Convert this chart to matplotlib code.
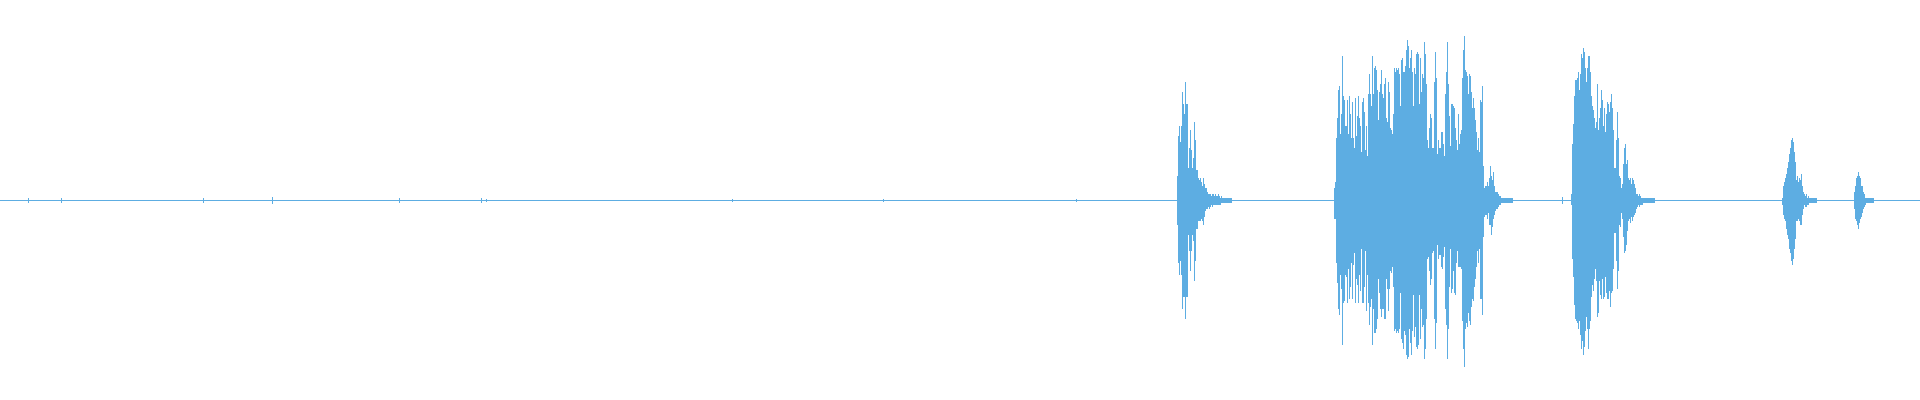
import numpy as np
import matplotlib
matplotlib.use('Agg')
import matplotlib.pyplot as plt

# waveform peaks: (max, -min) per sample column, full scale = 1.0
wave_color = '#5DADE2'

burst1_start = 1176
burst1 = [(0.12, 0.12), (0.32, 0.31), (0.37, 0.37), (0.29, 0.30), (0.37, 0.37),
	(0.54, 0.54), (0.48, 0.48), (0.43, 0.48), (0.59, 0.59), (0.48, 0.48),
	(0.48, 0.48), (0.16, 0.17), (0.26, 0.25), (0.35, 0.35), (0.25, 0.25),
	(0.16, 0.17), (0.21, 0.20), (0.39, 0.40), (0.30, 0.30), (0.15, 0.14),
	(0.15, 0.14), (0.11, 0.10), (0.10, 0.10), (0.11, 0.10), (0.09, 0.09),
	(0.07, 0.10), (0.11, 0.12), (0.08, 0.08), (0.06, 0.05), (0.06, 0.04),
	(0.04, 0.04), (0.03, 0.03), (0.03, 0.04), (0.03, 0.03), (0.02, 0.02),
	(0.03, 0.03), (0.03, 0.02), (0.02, 0.02), (0.03, 0.02), (0.02, 0.02),
	(0.02, 0.02), (0.03, 0.02), (0.02, 0.02), (0.01, 0.02), (0.02, 0.01),
	(0.01, 0.01), (0.01, 0.01), (0.01, 0.01), (0.01, 0.01), (0.01, 0.01),
	(0.01, 0.01), (0.01, 0.01), (0.01, 0.01), (0.01, 0.01), (0.01, 0.01)]

burst2_start = 1333
burst2 = [(0.06, 0.09), (0.09, 0.09), (0.31, 0.31), (0.41, 0.41), (0.55, 0.54),
	(0.57, 0.57), (0.33, 0.37), (0.43, 0.44), (0.72, 0.72), (0.52, 0.51),
	(0.50, 0.50), (0.37, 0.37), (0.37, 0.38), (0.50, 0.51), (0.33, 0.34),
	(0.52, 0.49), (0.43, 0.43), (0.31, 0.31), (0.49, 0.49), (0.31, 0.32),
	(0.26, 0.26), (0.51, 0.51), (0.32, 0.39), (0.42, 0.42), (0.52, 0.51),
	(0.41, 0.37), (0.37, 0.45), (0.24, 0.24), (0.49, 0.51), (0.51, 0.51),
	(0.44, 0.43), (0.25, 0.25), (0.37, 0.55), (0.22, 0.37), (0.53, 0.51),
	(0.63, 0.62), (0.53, 0.53), (0.47, 0.49), (0.72, 0.72), (0.53, 0.54),
	(0.66, 0.66), (0.67, 0.66), (0.65, 0.64), (0.55, 0.59), (0.40, 0.39),
	(0.54, 0.46), (0.58, 0.54), (0.65, 0.58), (0.53, 0.54), (0.51, 0.54),
	(0.58, 0.59), (0.61, 0.59), (0.41, 0.39), (0.39, 0.44), (0.59, 0.55),
	(0.54, 0.44), (0.36, 0.35), (0.35, 0.36), (0.33, 0.33), (0.43, 0.43),
	(0.66, 0.65), (0.64, 0.64), (0.66, 0.66), (0.65, 0.65), (0.66, 0.66),
	(0.63, 0.64), (0.47, 0.46), (0.70, 0.69), (0.71, 0.71), (0.64, 0.74),
	(0.64, 0.65), (0.67, 0.67), (0.75, 0.77), (0.80, 0.79), (0.77, 0.78),
	(0.66, 0.64), (0.71, 0.71), (0.75, 0.77), (0.64, 0.65), (0.47, 0.47),
	(0.66, 0.68), (0.63, 0.63), (0.73, 0.73), (0.74, 0.74), (0.73, 0.72),
	(0.48, 0.47), (0.71, 0.69), (0.54, 0.54), (0.63, 0.63), (0.61, 0.62),
	(0.79, 0.79), (0.73, 0.74), (0.58, 0.59), (0.30, 0.29), (0.26, 0.28),
	(0.36, 0.35), (0.43, 0.42), (0.41, 0.39), (0.26, 0.26), (0.26, 0.25),
	(0.59, 0.59), (0.74, 0.74), (0.61, 0.61), (0.23, 0.22), (0.30, 0.29),
	(0.26, 0.27), (0.26, 0.27), (0.34, 0.33), (0.34, 0.34), (0.28, 0.28),
	(0.22, 0.23), (0.53, 0.54), (0.64, 0.62), (0.79, 0.79), (0.58, 0.64),
	(0.42, 0.43), (0.27, 0.24), (0.48, 0.46), (0.48, 0.44), (0.47, 0.35),
	(0.46, 0.46), (0.36, 0.47), (0.30, 0.31), (0.25, 0.25), (0.43, 0.33),
	(0.28, 0.33), (0.33, 0.33), (0.35, 0.34), (0.61, 0.60), (0.75, 0.74),
	(0.82, 0.83), (0.65, 0.64), (0.64, 0.61), (0.62, 0.63), (0.53, 0.56),
	(0.63, 0.60), (0.62, 0.62), (0.54, 0.53), (0.46, 0.49), (0.51, 0.50),
	(0.46, 0.43), (0.40, 0.39), (0.34, 0.33), (0.25, 0.25), (0.31, 0.31),
	(0.24, 0.24), (0.50, 0.49), (0.49, 0.49), (0.57, 0.57), (0.17, 0.18),
	(0.06, 0.08), (0.07, 0.07), (0.07, 0.07), (0.09, 0.09), (0.07, 0.06),
	(0.11, 0.12), (0.17, 0.12), (0.12, 0.17), (0.10, 0.13), (0.14, 0.09),
	(0.07, 0.07), (0.04, 0.05), (0.04, 0.04), (0.04, 0.04), (0.03, 0.03),
	(0.02, 0.02), (0.02, 0.02), (0.01, 0.01), (0.01, 0.01), (0.01, 0.01),
	(0.01, 0.01), (0.01, 0.01), (0.01, 0.01), (0.01, 0.01), (0.01, 0.01),
	(0.01, 0.01), (0.01, 0.01), (0.01, 0.01), (0.01, 0.01)]

burst3_start = 1570
burst3 = [(0.03, 0.02), (0.28, 0.29), (0.38, 0.38), (0.52, 0.52), (0.60, 0.59),
	(0.60, 0.60), (0.61, 0.61), (0.64, 0.64), (0.55, 0.60), (0.63, 0.67),
	(0.73, 0.74), (0.71, 0.70), (0.76, 0.77), (0.74, 0.73), (0.66, 0.65),
	(0.59, 0.58), (0.66, 0.64), (0.72, 0.74), (0.72, 0.64), (0.64, 0.60),
	(0.52, 0.48), (0.47, 0.42), (0.45, 0.45), (0.41, 0.39), (0.36, 0.34),
	(0.39, 0.40), (0.58, 0.58), (0.35, 0.56), (0.41, 0.40), (0.46, 0.47),
	(0.55, 0.49), (0.50, 0.39), (0.37, 0.49), (0.46, 0.48), (0.34, 0.38),
	(0.43, 0.46), (0.49, 0.49), (0.48, 0.49), (0.44, 0.45), (0.49, 0.53),
	(0.53, 0.46), (0.46, 0.45), (0.35, 0.34), (0.16, 0.16), (0.16, 0.16),
	(0.30, 0.30), (0.44, 0.44), (0.31, 0.35), (0.12, 0.12), (0.11, 0.13),
	(0.06, 0.06), (0.08, 0.09), (0.18, 0.18), (0.26, 0.26), (0.28, 0.25),
	(0.18, 0.22), (0.20, 0.15), (0.11, 0.10), (0.10, 0.09), (0.11, 0.11),
	(0.08, 0.08), (0.11, 0.10), (0.10, 0.08), (0.08, 0.07), (0.06, 0.06),
	(0.03, 0.04), (0.03, 0.03), (0.02, 0.02), (0.03, 0.03), (0.02, 0.02),
	(0.01, 0.02), (0.01, 0.02), (0.01, 0.01), (0.01, 0.01), (0.01, 0.01),
	(0.01, 0.01), (0.01, 0.01), (0.01, 0.01), (0.01, 0.01), (0.01, 0.01),
	(0.01, 0.01), (0.01, 0.01), (0.01, 0.01), (0.01, 0.01)]

burst4_start = 1781
burst4 = [(0.01, 0.02), (0.07, 0.07), (0.09, 0.09), (0.11, 0.10), (0.13, 0.14),
	(0.16, 0.17), (0.19, 0.19), (0.23, 0.24), (0.26, 0.26), (0.30, 0.30),
	(0.31, 0.32), (0.29, 0.29), (0.24, 0.24), (0.19, 0.19), (0.10, 0.10),
	(0.12, 0.10), (0.09, 0.09), (0.11, 0.10), (0.10, 0.12), (0.13, 0.12),
	(0.07, 0.07), (0.04, 0.04), (0.03, 0.02), (0.02, 0.03), (0.03, 0.03),
	(0.01, 0.02), (0.02, 0.02), (0.01, 0.01), (0.01, 0.01), (0.01, 0.01),
	(0.01, 0.01), (0.01, 0.01), (0.01, 0.01), (0.01, 0.01), (0.01, 0.01)]

burst5_start = 1853
burst5 = [(0.04, 0.04), (0.07, 0.09), (0.11, 0.10), (0.12, 0.12), (0.14, 0.14),
	(0.12, 0.11), (0.11, 0.09), (0.07, 0.08), (0.07, 0.06), (0.04, 0.04),
	(0.03, 0.03), (0.01, 0.02), (0.01, 0.01), (0.01, 0.01), (0.01, 0.01),
	(0.01, 0.01), (0.01, 0.01), (0.01, 0.01), (0.01, 0.01), (0.01, 0.01)]

# little clicks sitting on the quiet part of the recording
click_pos = [27, 60, 202, 271, 398, 480, 485, 731, 882, 1075, 1561]
click_amp = [0.010, 0.008, 0.012, 0.015, 0.010, 0.008, 0.007, 0.007, 0.007, 0.007, 0.015]

n_samples = 1920
px_lw = 0.72  # one pixel at dpi 100


if __name__ == '__main__':

	fig = plt.figure(figsize=(19.2, 4), dpi=100)
	ax = fig.add_axes([0, 0, 1, 1])

	# silent baseline
	ax.axhline(0, color=wave_color, lw=px_lw, antialiased=False)

	bursts = [(burst1_start, burst1), (burst2_start, burst2), (burst3_start, burst3),
		(burst4_start, burst4), (burst5_start, burst5)]
	for start, peaks in bursts:
		P = np.array(peaks)
		x = start + np.arange(len(P))
		ax.vlines(x, -P[:, 1], P[:, 0], color=wave_color, lw=px_lw, antialiased=False)

	ax.vlines(click_pos, -np.array(click_amp), np.array(click_amp), color=wave_color,
		lw=px_lw, antialiased=False)

	ax.set_xlim(-0.5, n_samples - 0.5)
	ax.set_ylim(-1, 1)
	ax.axis('off')

	fig.savefig('out.png', dpi=100, facecolor='white')
